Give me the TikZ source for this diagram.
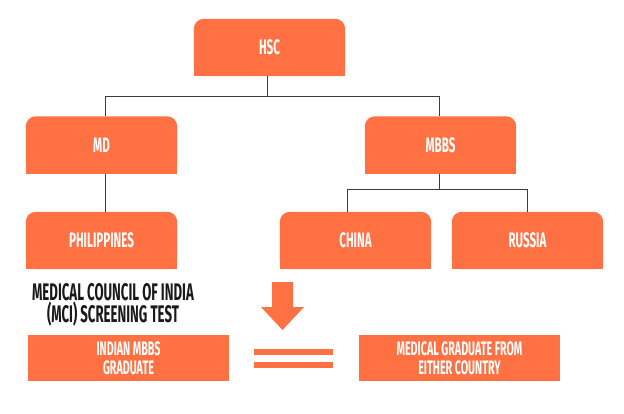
\documentclass[tikz,border=0pt]{standalone}
\usepackage{fontspec}
\newfontfamily\condfont[FakeStretch=0.55]{Fira Sans}
\usetikzlibrary{backgrounds}
\definecolor{coral}{RGB}{255,112,67}
\definecolor{linegray}{RGB}{60,60,60}
\tikzset{
  tbox/.style={inner sep=0pt, minimum width=151pt, minimum height=57pt, text=white,
    font=\condfont\bfseries\fontsize{21}{21}\selectfont, align=center},
  fbox/.style={inner sep=0pt, minimum width=201pt, minimum height=46pt, text=white, fill=coral,
    font=\condfont\bfseries\fontsize{19.5}{18.5}\selectfont, align=center},
  conn/.style={draw=linegray, line width=0.9pt},
}
\newcommand{\topround}[1]{%
  \fill[coral, rounded corners=10pt] (#1.south west) rectangle (#1.north east);
  \fill[coral] (#1.south west) rectangle (#1.east);}
\begin{document}
\begin{tikzpicture}[x=1pt,y=1pt]
\useasboundingbox (0,0) rectangle (624,413);
\node[tbox] (hsc) at (269.5,365.5) {HSC};
\node[tbox] (md) at (101.5,268) {MD};
\node[tbox] (mbbs) at (440.5,268) {MBBS};
\node[tbox] (phil) at (101.5,172.5) {PHILIPPINES};
\node[tbox] (china) at (355.5,172.5) {CHINA};
\node[tbox] (russia) at (527.5,172.5) {RUSSIA};
\begin{scope}[on background layer]
\topround{hsc}\topround{md}\topround{mbbs}\topround{phil}\topround{china}\topround{russia}
\end{scope}
\coordinate (j1) at ([xshift=-2.5pt]hsc.south);
\coordinate (j2) at ([xshift=-1.5pt]mbbs.south);
\draw[conn] (j1) -- ++(0,-20) coordinate (h1);
\draw[conn] ([xshift=4pt]md.north) |- (h1) -| ([xshift=-1.5pt]mbbs.north);
\draw[conn] ([xshift=4pt]md.south) -- ([xshift=4pt]phil.north);
\draw[conn] (j2) -- ++(0,-16) coordinate (h2);
\draw[conn] ([xshift=-8.5pt]china.north) |- (h2) -| (russia.north);
\node[font=\condfont\bfseries\fontsize{24}{21}\selectfont, text=black!90, align=center] (mci) at (113,108) {MEDICAL COUNCIL OF INDIA\\(MCI) SCREENING TEST};
\node[fbox] (indian) at (128.5,55) {INDIAN MBBS\\GRADUATE};
\node[fbox] (medgrad) at (459.5,55) {MEDICAL GRADUATE FROM\\EITHER COUNTRY};
\fill[coral] (272,131) -- (293,131) -- (293,106) -- (304,106) -- (282.5,83) -- (261,106) -- (272,106) -- cycle;
\fill[coral] (254,58) rectangle (333,64);
\fill[coral] (254,45) rectangle (333,51);
\end{tikzpicture}
\end{document}
